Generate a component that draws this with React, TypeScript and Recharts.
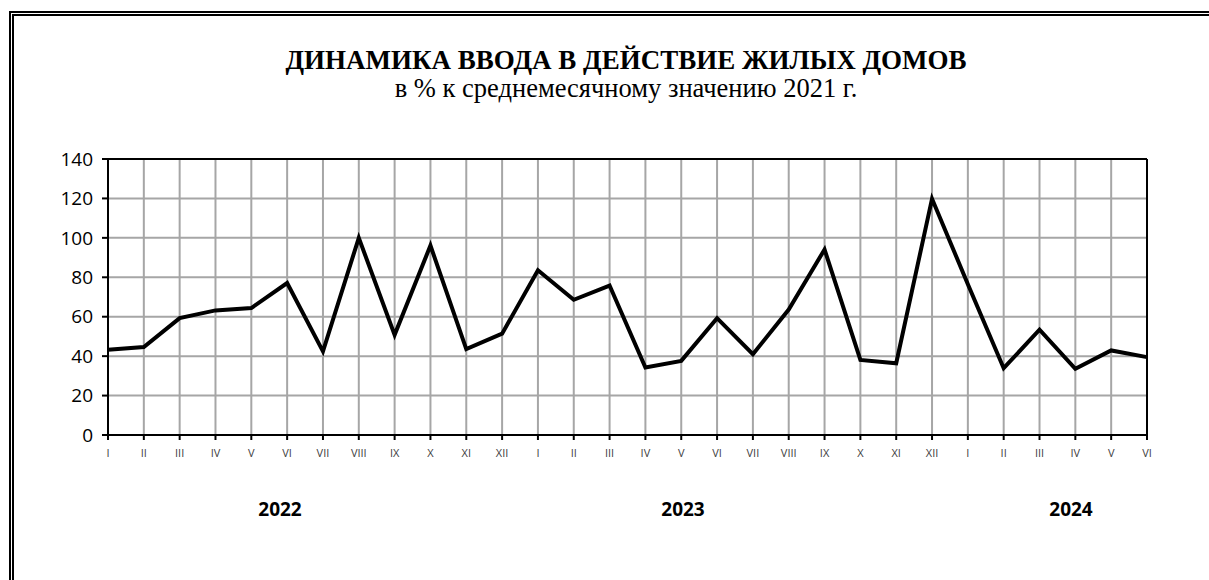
import React from 'react';
import { LineChart, Line, XAxis, YAxis, CartesianGrid, ReferenceLine } from 'recharts';

const months = ['I', 'II', 'III', 'IV', 'V', 'VI', 'VII', 'VIII', 'IX', 'X', 'XI', 'XII'];

// январь 2022 – июнь 2024
const periods = [
    '2022-01', '2022-02', '2022-03', '2022-04', '2022-05', '2022-06',
    '2022-07', '2022-08', '2022-09', '2022-10', '2022-11', '2022-12',
    '2023-01', '2023-02', '2023-03', '2023-04', '2023-05', '2023-06',
    '2023-07', '2023-08', '2023-09', '2023-10', '2023-11', '2023-12',
    '2024-01', '2024-02', '2024-03', '2024-04', '2024-05', '2024-06',
];

const values = [
    43.2, 44.6, 59.3, 63.2, 64.4, 77.1, 42.4, 100, 50.8, 96.1, 43.6, 51.4,
    83.6, 68.6, 75.8, 34.2, 37.6, 59.3, 41.0, 63.6, 94.1, 38.1, 36.4, 119.8,
    76.5, 33.9, 53.4, 33.6, 42.9, 39.5,
];

const yTicks = [0, 20, 40, 60, 80, 100, 120, 140];

const years = [
    { label: '2022', left: 280 },
    { label: '2023', left: 683 },
    { label: '2024', left: 1071 },
];

const data = periods.map((p, i) => ({ p, v: values[i] }));

const monthLabel = (p: string) => months[Number(p.slice(5)) - 1];

const serif = "'Liberation Serif', 'Times New Roman', Times, serif";
const sans = "'Open Sans', sans-serif";

export default function App() {
    return (
        <div style={{ position: 'absolute', left: 0, top: 0, width: 1209, height: 580, overflow: 'hidden', background: '#fff' }}>
            <div style={{ position: 'absolute', left: 9, top: 11, width: 1300, height: 700, borderLeft: '5px double #000', borderTop: '5px double #000' }} />
            <div style={{ position: 'absolute', left: 0, width: 1252, top: 46, textAlign: 'center', fontFamily: serif, color: '#000' }}>
                <div style={{ fontWeight: 'bold', fontSize: 27, lineHeight: '28px' }}>ДИНАМИКА ВВОДА В ДЕЙСТВИЕ ЖИЛЫХ ДОМОВ</div>
                <div style={{ fontSize: 26.5, lineHeight: '28px' }}>в % к среднемесячному значению 2021 г.</div>
            </div>
            <div style={{ position: 'absolute', left: 0, top: 0 }}>
                <LineChart width={1209} height={580} data={data} margin={{ top: 159, right: 62, bottom: 115, left: 48 }}>
                    <CartesianGrid stroke="#a6a6a6" strokeWidth={2} />
                    <XAxis
                        dataKey="p"
                        tickFormatter={monthLabel}
                        interval={0}
                        height={30}
                        axisLine={{ stroke: '#000', strokeWidth: 2 }}
                        tickLine={{ stroke: '#000', strokeWidth: 2 }}
                        tickSize={5}
                        tickMargin={9}
                        tick={{ fontSize: 11, fill: '#404040', fontFamily: sans }}
                    />
                    <YAxis
                        domain={[0, 140]}
                        ticks={yTicks}
                        interval={0}
                        width={60}
                        axisLine={{ stroke: '#000', strokeWidth: 2 }}
                        tickLine={{ stroke: '#000', strokeWidth: 2 }}
                        tickSize={6}
                        tickMargin={9}
                        tick={{ fontSize: 19, fill: '#000', fontFamily: sans }}
                    />
                    <ReferenceLine y={140} stroke="#000" strokeWidth={2} />
                    <ReferenceLine x={periods[periods.length - 1]} stroke="#000" strokeWidth={2} />
                    <Line
                        type="linear"
                        dataKey="v"
                        stroke="#000"
                        strokeWidth={4}
                        dot={false}
                        activeDot={false}
                        isAnimationActive={false}
                    />
                </LineChart>
            </div>
            {years.map((y) => (
                <div
                    key={y.label}
                    style={{ position: 'absolute', left: y.left - 40, width: 80, top: 496, textAlign: 'center', fontFamily: sans, fontWeight: 'bold', fontSize: 19, color: '#000' }}
                >
                    {y.label}
                </div>
            ))}
        </div>
    );
}
